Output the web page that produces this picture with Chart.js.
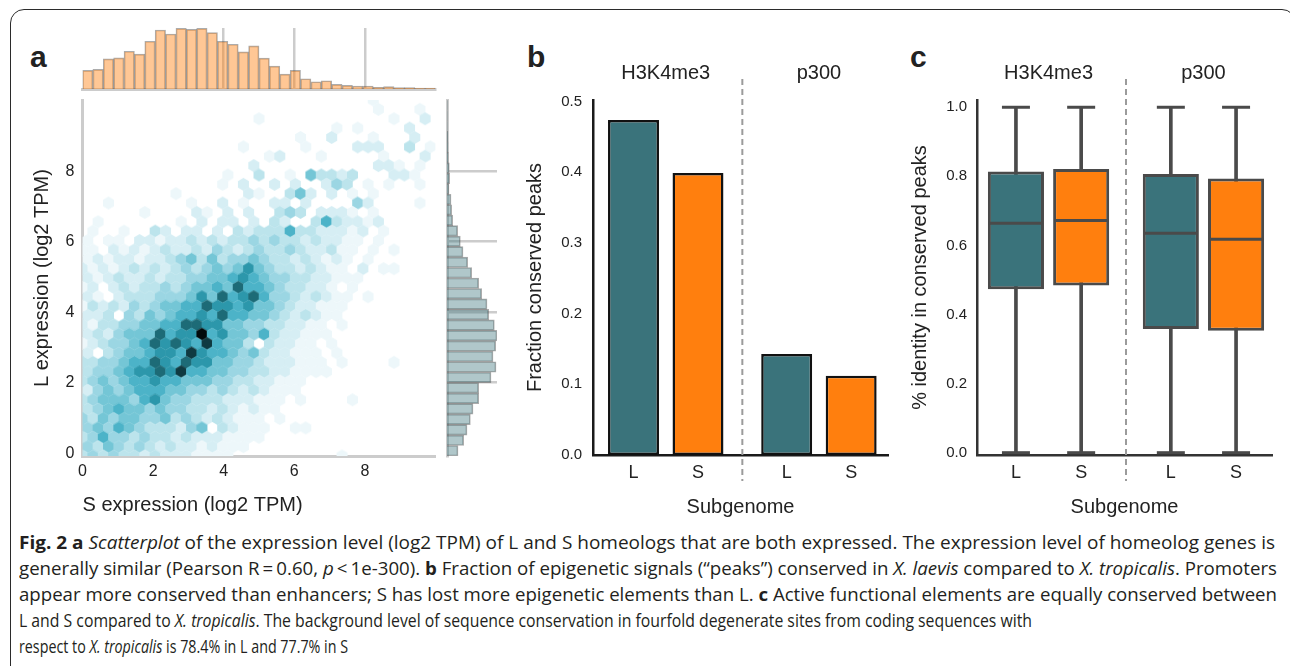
<!DOCTYPE html>
<html>
<head>
<meta charset="utf-8">
<title>Fig. 2</title>
<script src="https://cdn.jsdelivr.net/npm/chart.js@4.4.1/dist/chart.umd.min.js"></script>
<style>
  html, body { margin: 0; padding: 0; background: #fff; }
  #page { position: relative; width: 1290px; height: 666px; overflow: hidden; font-family: "Liberation Sans", Arial, sans-serif; color: #222; }
  #frame { position: absolute; left: 10px; top: 9px; width: 1286px; height: 720px; border: 1.5px solid #2b2b2b; border-radius: 14px; box-sizing: border-box; }
  canvas.layer { position: absolute; left: 0; top: 0; }
  .letter { position: absolute; font-weight: bold; font-size: 30px; line-height: 30px; }
  .cl { position: absolute; left: 19px; top: 0; white-space: nowrap; font-family: "Open Sans", sans-serif; font-size: 18px; line-height: 26px; color: #231f20; transform-origin: 0 50%; }
</style>
</head>
<body>
<div id="page">
  <div id="frame"></div>
  <div class="letter" style="left:30px;top:42px">a</div>
  <div class="letter" style="left:527px;top:42px">b</div>
  <div class="letter" style="left:910px;top:42px">c</div>
  <div class="cl"><b>Fig. 2 a</b> <i>Scatterplot</i> of the expression level (log2 TPM) of L and S homeologs that are both expressed. The expression level of homeolog genes is</div>
  <div class="cl">generally similar (Pearson R&thinsp;=&thinsp;0.60, <i>p</i>&thinsp;&lt;&thinsp;1e-300). <b>b</b> Fraction of epigenetic signals (“peaks”) conserved in <i>X. laevis</i> compared to <i>X. tropicalis</i>. Promoters</div>
  <div class="cl">appear more conserved than enhancers; S has lost more epigenetic elements than L. <b>c</b> Active functional elements are equally conserved between</div>
  <div class="cl">L and S compared to <i>X. tropicalis</i>. The background level of sequence conservation in fourfold degenerate sites from coding sequences with</div>
  <div class="cl">respect to <i>X. tropicalis</i> is 78.4% in L and 77.7% in S</div>
</div>
<script>
// ---- panel a ----
// marginal histograms, bar lengths (34 bins each)
const sHist = [56, 59, 91, 94, 114, 105, 144, 178, 166, 183, 180, 183, 170, 144, 135, 112, 130, 93, 69, 45, 56, 31, 22, 25, 14, 11, 9, 9, 5, 7, 4, 4, 3, 3];
const lHist = [33, 50, 60, 70, 78, 95, 95, 132, 147, 138, 146, 150, 142, 125, 120, 104, 95, 74, 62, 48, 40, 32, 17, 14, 12, 6, 8, 7, 4, 3, 2, 1, 1, 1];
const exprTicks = [0, 2, 4, 6, 8];
const margTicks = [4, 6, 8];

// hexbin shade per cell (1..a), top row first, '.' = empty; spaces only group columns
const hexRows = [
  ".......... .......... ........1. .....",
  ".......... .......... ........1. ..1..",
  ".......... .......1.. .......... 1..2.",
  ".......... .......... ....1.1... .2...",
  ".......... .......... .1..2...1. ..2..",
  ".......... .....1.... .1....222. .3.1.",
  ".......... ........12 ...1.....1 ...2.",
  ".......... ......2... ........22 1.1..",
  ".......... ....1..3.. 1.53323... 221..",
  ".......... ...1.2..2. 2..243.1.1 ..1..",
  ".........1 ......21.. 352.2.1.1. .....",
  "..1....... 1..2.1..22 .2....42.. ..1..",
  "......1... .21.2.2..3 43.2221.1. .....",
  ".1.......1 .2.22.2.32 ..3632212. .....",
  ".1..1..32. 22.2.32333 63322212.1 .....",
  "1.11.22122 3232334343 3232211.1. .....",
  "11.2121232 2324323433 4322311.1. 1....",
  "1212212234 5353445433 232121.1.. .....",
  "2121232323 4345457543 323211.2.1 1....",
  "2123223233 4455676544 3322111... .....",
  "12.2323343 4556586654 33221.1... .....",
  "21.2333444 5758678644 323211.1.. .....",
  "1323243455 6687767554 322111.... .....",
  "223.435456 6768665543 23211..... .....",
  "2133445566 8877554433 2211.1.... .....",
  "2324555867 7a67554632 2111...... .....",
  "1234456878 7696553.32 211.1..... .....",
  "2.34556776 9766545322 111.1..... .....",
  "3344566876 8775544322 2111.1.... 1....",
  "3445677879 6655443322 1111...... .....",
  "3454566766 5554433221 11........ .....",
  "2454566655 4434323211 1......... .....",
  "3455546754 4333222111 .1....1... .....",
  "3456554544 332321211. .......... .....",
  "4354554453 43232111.1 .......... .....",
  "4546543332 45.32111.. 11........ .....",
  "3464434332 32221111.. .......... .....",
  "4354343232 212111.... .......... .....",
  "3434332322 21111..... .....1.... ....."
];

// ---- panel b ----
const subgenomes = ['L', 'S'];
const marks = ['H3K4me3', 'p300'];
const fracH3K4me3 = [0.474, 0.399];
const fracP300 = [0.143, 0.112];
const fracTicks = [0, 0.1, 0.2, 0.3, 0.4, 0.5];

// ---- panel c (L, S for H3K4me3, then L, S for p300) ----
const idLow = [0, 0, 0, 0];
const idQ1 = [0.473, 0.484, 0.358, 0.353];
const idMedian = [0.664, 0.672, 0.635, 0.618];
const idQ3 = [0.814, 0.821, 0.807, 0.794];
const idHigh = [1.0, 1.0, 1.0, 1.0];
const idTicks = [0, 0.2, 0.4, 0.6, 0.8, 1.0];

const subColors = ['#3a737b', '#ff7f0e'];
const hexColors = ['#ffffff', '#edf7fa', '#d6eef4', '#bce4ec', '#9bd6e3', '#74c6d6', '#4cb3c8', '#2c97ab', '#1d6b77', '#0f3a41', '#020a0b'];
const boxEdge = '#4a4a4a';
const FONT = '"Liberation Sans", Arial, Helvetica, sans-serif';

Chart.defaults.font.family = FONT;
Chart.defaults.color = '#222';
Chart.defaults.animation = false;
Chart.defaults.events = [];
Chart.defaults.plugins.legend.display = false;
Chart.defaults.plugins.tooltip.enabled = false;

const W = 1290, H = 666;

function layer() {
  const cv = document.createElement('canvas');
  cv.width = W; cv.height = H; cv.className = 'layer';
  document.getElementById('page').appendChild(cv);
  return cv;
}
// padding that puts the plot area on the given page box
function place(area, axisW, axisH) {
  return { left: area.left - axisW, right: W - area.right, top: area.top, bottom: H - area.bottom - axisH };
}
function fixTicks(values) {
  return function (s) { s.ticks = values.map(v => ({ value: v })); };
}

// shared ranges of the joint plot
const X_MIN = 0, X_MAX = 10, Y_MIN = -0.08, Y_MAX = 10.02;
const hexArea = { left: 82.5, right: 435.5, top: 100, bottom: 456 };
const topArea = { left: 82.5, right: 435.5, top: 28, bottom: 89 };
const sideArea = { left: 447, right: 497, top: 100, bottom: 456 };

// hex lattice like matplotlib hexbin (34 across)
const hexSx = (X_MAX - X_MIN) / 34;
const hexSy = (Y_MAX - Y_MIN) / 19;
const hexPoints = [];
hexRows.forEach(function (txt, r) {
  const row = txt.replace(/ /g, '');
  const k = hexRows.length - 1 - r;
  for (let i = 0; i < row.length; i++) {
    if (row[i] === '.') continue;
    hexPoints.push({ x: X_MIN + (i + (k % 2) * 0.5) * hexSx, y: Y_MIN + k * hexSy / 2, v: parseInt(row[i], 16) });
  }
});

// hexagon size in pixels of the hexbin plot area
const hexW = (hexArea.right - hexArea.left) * hexSx / (X_MAX - X_MIN);
const hexH = (hexArea.bottom - hexArea.top) * (hexSy * 2 / 3) / (Y_MAX - Y_MIN);
const hexCache = {};
function hexStyle(c) {
  if (!c.raw) return 'circle';
  const col = hexColors[c.raw.v] || hexColors[1];
  if (hexCache[col]) return hexCache[col];
  const cv = document.createElement('canvas');
  cv.width = Math.ceil(hexW) + 2; cv.height = Math.ceil(hexH) + 2;
  const g = cv.getContext('2d');
  const cx = cv.width / 2, cy = cv.height / 2, hw = hexW / 2 + 0.3, hh = hexH / 2 + 0.3;
  g.fillStyle = col;
  g.beginPath();
  g.moveTo(cx, cy - hh);
  g.lineTo(cx + hw, cy - hh / 2);
  g.lineTo(cx + hw, cy + hh / 2);
  g.lineTo(cx, cy + hh);
  g.lineTo(cx - hw, cy + hh / 2);
  g.lineTo(cx - hw, cy - hh / 2);
  g.closePath();
  g.fill();
  hexCache[col] = cv;
  return cv;
}

// hexbin
new Chart(layer(), {
  type: 'scatter',
  data: { datasets: [{ data: hexPoints, pointStyle: hexStyle, pointRadius: 6, clip: 0 }] },
  options: {
    responsive: false,
    layout: { autoPadding: false, padding: place(hexArea, 60, 61) },
    scales: {
      x: {
        type: 'linear', min: X_MIN, max: X_MAX,
        afterBuildTicks: fixTicks(exprTicks), afterFit: s => { s.height = 61; },
        grid: { display: false, drawTicks: false }, border: { color: '#cccccc', width: 3 },
        ticks: { font: { size: 16 }, padding: 6 },
        title: { display: true, text: 'S expression (log2 TPM)', align: 'start', font: { size: 20 }, padding: 0 }
      },
      y: {
        type: 'linear', min: Y_MIN, max: Y_MAX,
        afterBuildTicks: fixTicks(exprTicks), afterFit: s => { s.width = 60; },
        grid: { display: false, drawTicks: false }, border: { color: '#cccccc', width: 3 },
        ticks: { font: { size: 16 }, padding: 8 },
        title: { display: true, text: 'L expression (log2 TPM)', font: { size: 20 }, padding: { top: 7.5, bottom: 0 } }
      }
    }
  }
});

// top marginal (S)
const sBin = (X_MAX - X_MIN) / sHist.length;
new Chart(layer(), {
  type: 'bar',
  data: {
    datasets: [{
      data: sHist.map((n, j) => ({ x: X_MIN + (j + 0.5) * sBin, y: n })),
      backgroundColor: 'rgba(255,127,14,0.44)', borderColor: 'rgba(70,70,70,0.45)', borderWidth: 1,
      barPercentage: 1, categoryPercentage: 1
    }]
  },
  options: {
    responsive: false,
    layout: { autoPadding: false, padding: place(topArea, 0, 0) },
    scales: {
      x: {
        type: 'linear', min: X_MIN, max: X_MAX, offset: false,
        afterBuildTicks: fixTicks(margTicks), afterFit: s => { s.height = 0; },
        ticks: { display: false },
        grid: { color: '#cccccc', lineWidth: 2.5, drawTicks: false, offset: false },
        border: { color: '#cccccc', width: 3 }
      },
      y: { min: 0, max: 184, display: false }
    }
  }
});

// right marginal (L)
const lBin = (Y_MAX - Y_MIN) / lHist.length;
new Chart(layer(), {
  type: 'bar',
  data: {
    datasets: [{
      data: lHist.map((n, j) => ({ y: Y_MIN + (j + 0.5) * lBin, x: n })),
      backgroundColor: 'rgba(58,115,123,0.4)', borderColor: 'rgba(70,70,70,0.45)', borderWidth: 1,
      barPercentage: 1, categoryPercentage: 1
    }]
  },
  options: {
    indexAxis: 'y',
    responsive: false,
    layout: { autoPadding: false, padding: place(sideArea, 0, 0) },
    scales: {
      y: {
        type: 'linear', position: 'left', min: Y_MIN, max: Y_MAX, offset: false,
        afterBuildTicks: fixTicks([2, 4, 6, 8]), afterFit: s => { s.width = 0; },
        ticks: { display: false },
        grid: { color: '#cccccc', lineWidth: 2.5, drawTicks: false, offset: false },
        border: { color: '#cccccc', width: 3 }
      },
      x: { min: 0, max: 150, display: false }
    }
  }
});

// ---- facet layout for b and c ----
const FACET = 2.375;
const catPos = [0, 1, FACET, FACET + 1];
const facetMid = [0.5, FACET + 0.5];

// dashed divider between the two facets, plus the facet headers
const facetDecor = {
  id: 'facetDecor',
  afterDatasetsDraw(chart) {
    const xs = chart.scales.x;
    const ctx = chart.ctx;
    const x = xs.getPixelForValue((1 + FACET) / 2);
    ctx.save();
    ctx.strokeStyle = '#9b9b9b';
    ctx.lineWidth = 2;
    ctx.setLineDash([6, 4]);
    ctx.beginPath();
    ctx.moveTo(x, 79);
    ctx.lineTo(x, 481);
    ctx.stroke();
    ctx.fillStyle = '#222';
    ctx.font = '20px ' + FONT;
    ctx.textAlign = 'center';
    ctx.textBaseline = 'middle';
    facetMid.forEach((m, i) => ctx.fillText(marks[i], xs.getPixelForValue(m), 73.5));
    ctx.restore();
  }
};

function facetX(min, max, spine) {
  return {
    type: 'linear', min: min, max: max, offset: false,
    afterBuildTicks: fixTicks(catPos), afterFit: s => { s.height = 64; },
    grid: { display: false, drawTicks: false, offset: false }, border: { color: spine, width: 2.5 },
    ticks: { font: { size: 18 }, padding: 7.5, callback: (v, i) => subgenomes[i % 2] },
    title: { display: true, text: 'Subgenome', font: { size: 20 }, padding: 0 }
  };
}

// panel b
const bArea = { left: 593, right: 888, top: 100, bottom: 455 };
const fracAll = fracH3K4me3.concat(fracP300);
new Chart(layer(), {
  type: 'bar',
  data: {
    datasets: [{
      data: catPos.map((x, i) => ({ x: x, y: fracAll[i] })),
      backgroundColor: catPos.map((x, i) => subColors[i % 2]),
      borderColor: '#111', borderWidth: 2.5, borderSkipped: false,
      barPercentage: 0.79, categoryPercentage: 1
    }]
  },
  options: {
    responsive: false,
    layout: { autoPadding: false, padding: place(bArea, 73, 64) },
    scales: {
      x: facetX(-0.628, 3.946, '#1a1a1a'),
      y: {
        min: 0, max: 0.5024,
        afterBuildTicks: fixTicks(fracTicks), afterFit: s => { s.width = 73; },
        grid: { display: false, drawTicks: false }, border: { color: '#1a1a1a', width: 2.5 },
        ticks: { font: { size: 15 }, padding: 11, callback: v => v.toFixed(1) },
        title: { display: true, text: 'Fraction conserved peaks', font: { size: 20 }, padding: { top: 3.5, bottom: 0 } }
      }
    }
  },
  plugins: [facetDecor]
});

// panel c
const cArea = { left: 977, right: 1272, top: 100, bottom: 455 };
new Chart(layer(), {
  type: 'bar',
  data: {
    datasets: [
      {
        order: 3, grouped: false,
        data: catPos.map((x, i) => ({ x: x, y: [idLow[i], idHigh[i]] })),
        backgroundColor: boxEdge, barThickness: 3
      },
      {
        order: 2, grouped: false,
        data: catPos.map((x, i) => ({ x: x, y: [idQ1[i], idQ3[i]] })),
        backgroundColor: catPos.map((x, i) => subColors[i % 2]),
        borderColor: boxEdge, borderWidth: 3, borderSkipped: false,
        barPercentage: 0.86, categoryPercentage: 1
      },
      {
        type: 'scatter', order: 1,
        data: catPos.map((x, i) => ({ x: x, y: idMedian[i] })),
        pointStyle: 'line', pointRadius: 27, pointBorderColor: boxEdge, pointBorderWidth: 3
      },
      {
        type: 'scatter', order: 0,
        data: catPos.flatMap((x, i) => [{ x: x, y: idLow[i] }, { x: x, y: idHigh[i] }]),
        pointStyle: 'line', pointRadius: 14, pointBorderColor: boxEdge, pointBorderWidth: 3
      }
    ]
  },
  options: {
    responsive: false,
    layout: { autoPadding: false, padding: place(cArea, 72, 64) },
    scales: {
      x: facetX(-0.597, 3.926, '#333'),
      y: {
        min: -0.0067, max: 1.021,
        afterBuildTicks: fixTicks(idTicks), afterFit: s => { s.width = 72; },
        grid: { display: false, drawTicks: false }, border: { color: '#333', width: 2.5 },
        ticks: { font: { size: 15 }, padding: 10, callback: v => v.toFixed(1) },
        title: { display: true, text: '% identity in conserved peaks', font: { size: 20 }, padding: { top: 3, bottom: 0 } }
      }
    }
  },
  plugins: [facetDecor]
});

// caption lines fitted to the widths they have in the figure
const capWidths = [1256, 1258, 1258, 1013, 329];
document.querySelectorAll('.cl').forEach(function (el, i) {
  el.style.top = (529 + 26 * i) + 'px';
  const w = el.getBoundingClientRect().width;
  el.style.transform = 'scaleX(' + (capWidths[i] / w) + ')';
});
</script>
</body>
</html>
